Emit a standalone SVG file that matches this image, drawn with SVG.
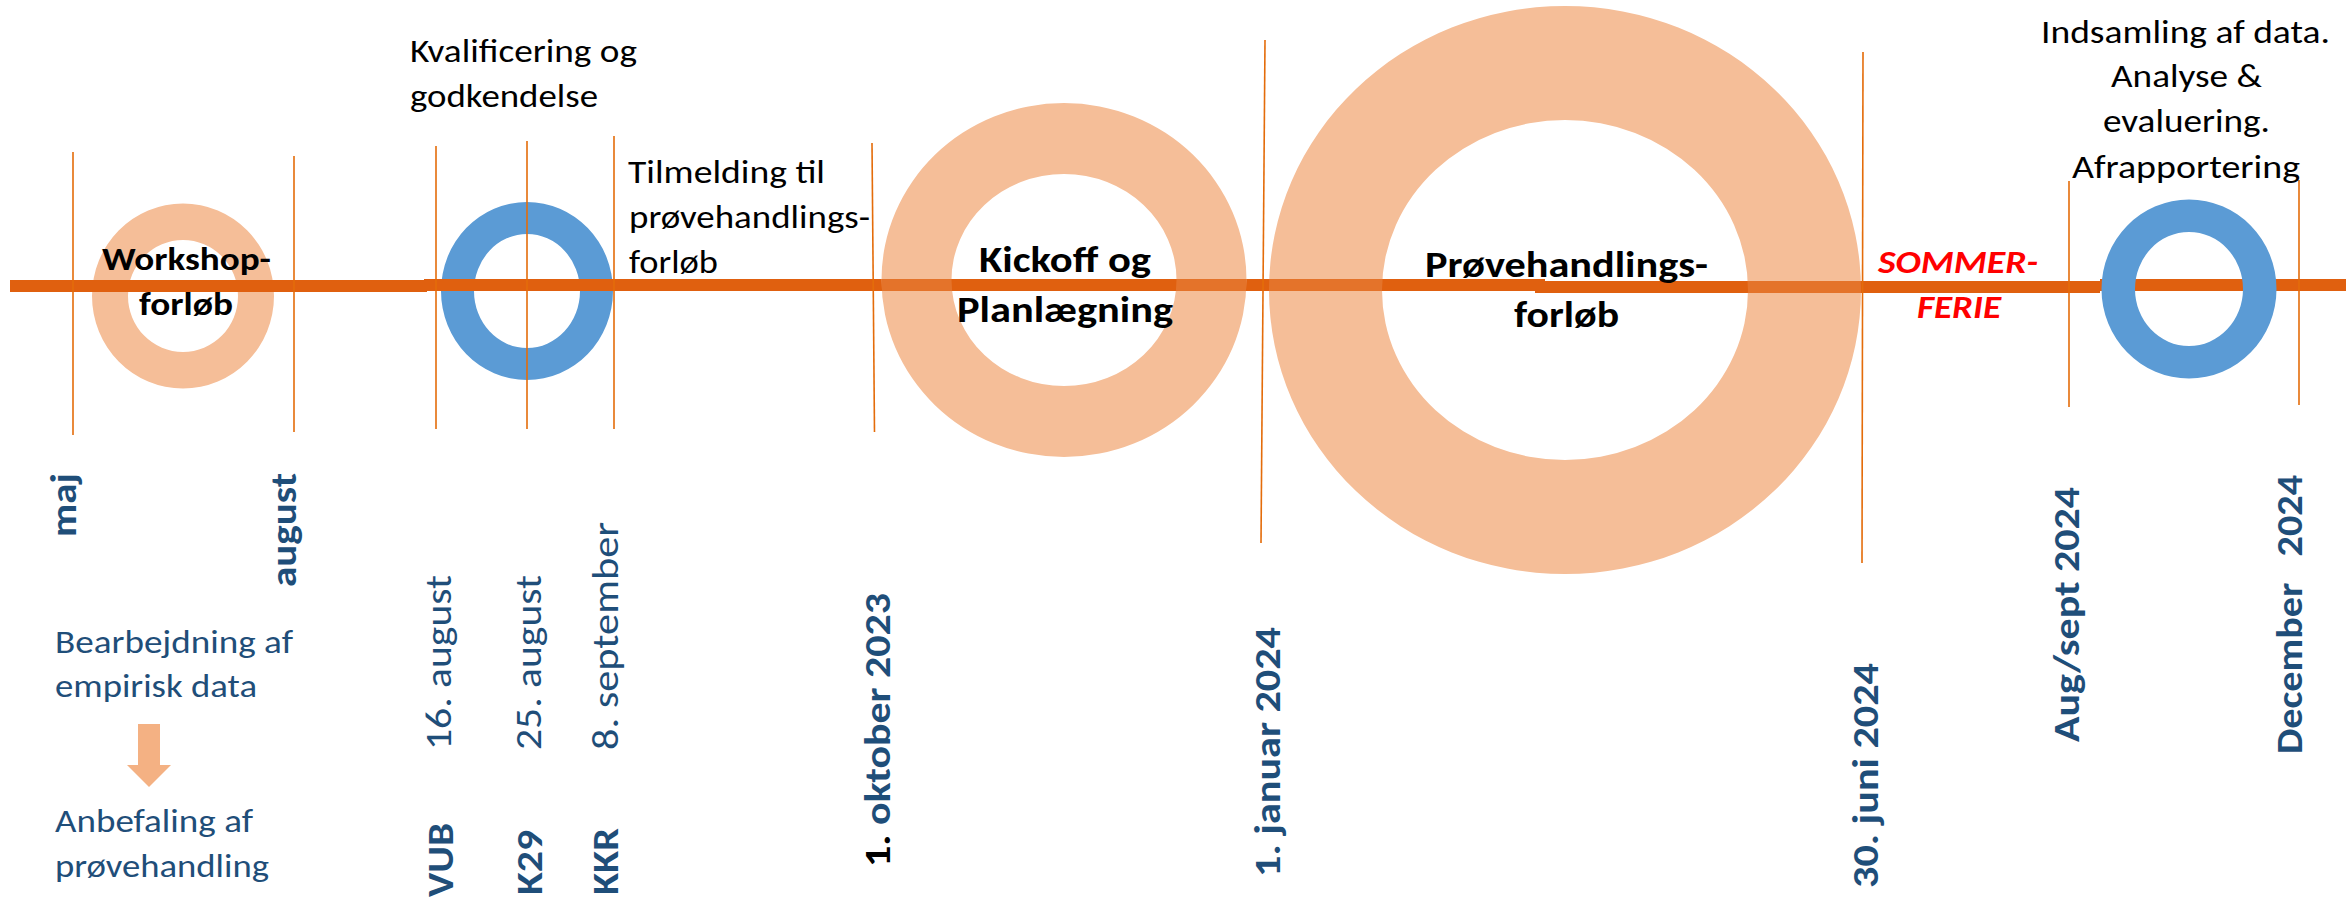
<svg xmlns="http://www.w3.org/2000/svg" width="2346" height="899" viewBox="0 0 2346 899">
<style>
text { font-family: Carlito, Lato, "Liberation Sans", sans-serif; }
.h { font-size: 32px; fill: #000; }
.hb { font-size: 33px; font-weight: 700; fill: #000; }
.hb2 { font-size: 36px; font-weight: 700; fill: #000; }
.red { font-size: 33px; font-weight: 700; font-style: italic; fill: #FF0000; }
.bl { font-size: 32px; fill: #1F4E79; }
.v { font-size: 37px; fill: #1F4E79; }
.vb { font-size: 37px; font-weight: 700; fill: #1F4E79; }
.salmon { fill: #F5BE98; fill-rule: evenodd; }
.blue { fill: #5B9BD5; fill-rule: evenodd; }
.bar { fill: #E0600F; }
.barov { fill: #E0600F; opacity: 0.8; }
.tick { stroke: #E46C0A; stroke-width: 1.6; fill: none; }
.arrow { fill: #F4B183; }
</style>

<!-- nodes under the bar -->
<g id="node-workshop-ring">
  <path class="salmon" d="M92,296 a91,92.5 0 1,0 182,0 a91,92.5 0 1,0 -182,0 Z M128,296 a55,56 0 1,0 110,0 a55,56 0 1,0 -110,0 Z"/>
</g>
<g id="node-kvalificering-ring">
  <path class="blue" d="M441,291 a86,89 0 1,0 172,0 a86,89 0 1,0 -172,0 Z M474,291 a53,57 0 1,0 106,0 a53,57 0 1,0 -106,0 Z"/>
</g>

<!-- timeline bar -->
<g id="timeline">
  <rect class="bar" x="10" y="280" width="417" height="12"/>
  <rect class="bar" x="424" y="279" width="1121" height="12"/>
  <rect class="bar" x="1535" y="281" width="565" height="12"/>
  <rect class="bar" x="2100" y="279" width="246" height="12"/>
</g>

<g id="node-kickoff">
  <path class="salmon" d="M881.5,280 a182.5,177 0 1,0 365,0 a182.5,177 0 1,0 -365,0 Z M951.5,280 a112.5,106 0 1,0 225,0 a112.5,106 0 1,0 -225,0 Z"/>
  <rect class="barov" x="881.5" y="279" width="365" height="12"/>
  <text class="hb2" x="979" y="272" textLength="172" lengthAdjust="spacingAndGlyphs">Kickoff og</text>
  <text class="hb2" x="957" y="322" textLength="216" lengthAdjust="spacingAndGlyphs">Planlægning</text>
</g>

<g id="node-provehandling">
  <path class="salmon" d="M1269,290 a296,284 0 1,0 592,0 a296,284 0 1,0 -592,0 Z M1382,290 a183,170 0 1,0 366,0 a183,170 0 1,0 -366,0 Z"/>
  <rect class="barov" x="1269" y="279" width="271" height="12"/>
  <rect class="barov" x="1540" y="281" width="321" height="12"/>
  <text class="hb2" x="1425" y="277" textLength="283" lengthAdjust="spacingAndGlyphs">Prøvehandlings-</text>
  <text class="hb2" x="1514" y="327" textLength="105" lengthAdjust="spacingAndGlyphs">forløb</text>
</g>

<g id="node-evaluering-ring">
  <path class="blue" d="M2101.5,289 a87.5,89.5 0 1,0 175,0 a87.5,89.5 0 1,0 -175,0 Z M2135,289 a54,57 0 1,0 108,0 a54,57 0 1,0 -108,0 Z"/>
</g>

<!-- tick lines -->
<g id="ticks">
  <line class="tick" x1="73" y1="152" x2="73" y2="435"/>
  <line class="tick" x1="294" y1="156" x2="294" y2="432"/>
  <line class="tick" x1="436" y1="146" x2="436" y2="429"/>
  <line class="tick" x1="527" y1="141" x2="527" y2="429"/>
  <line class="tick" x1="614" y1="136" x2="614" y2="429"/>
  <line class="tick" x1="872" y1="143" x2="874.5" y2="432"/>
  <line class="tick" x1="1265" y1="40" x2="1261" y2="543"/>
  <line class="tick" x1="1863" y1="52" x2="1862" y2="563"/>
  <line class="tick" x1="2069" y1="181" x2="2069" y2="407"/>
  <line class="tick" x1="2299" y1="180" x2="2299" y2="405"/>
</g>

<g id="node-workshop-label">
  <text class="hb" x="102" y="270" textLength="169" lengthAdjust="spacingAndGlyphs">Workshop-</text>
  <text class="hb" x="139" y="315" textLength="94" lengthAdjust="spacingAndGlyphs">forløb</text>
</g>

<g id="node-kvalificering">
  <text class="h" x="410" y="62" textLength="227" lengthAdjust="spacingAndGlyphs">Kvalificering og</text>
  <text class="h" x="410" y="107" textLength="188" lengthAdjust="spacingAndGlyphs">godkendelse</text>
</g>

<g id="node-tilmelding">
  <text class="h" x="628" y="183" textLength="197" lengthAdjust="spacingAndGlyphs">Tilmelding til</text>
  <text class="h" x="629" y="228" textLength="241" lengthAdjust="spacingAndGlyphs">prøvehandlings-</text>
  <text class="h" x="629" y="273" textLength="89" lengthAdjust="spacingAndGlyphs">forløb</text>
</g>

<g id="node-sommerferie">
  <text class="red" x="1878" y="273" textLength="160" lengthAdjust="spacingAndGlyphs">SOMMER-</text>
  <text class="red" x="1917" y="318" textLength="84" lengthAdjust="spacingAndGlyphs">FERIE</text>
</g>

<g id="node-evaluering">
  <text class="h" x="2041" y="43" textLength="289" lengthAdjust="spacingAndGlyphs">Indsamling af data.</text>
  <text class="h" x="2111" y="87" textLength="151" lengthAdjust="spacingAndGlyphs">Analyse &amp;</text>
  <text class="h" x="2103" y="132" textLength="167" lengthAdjust="spacingAndGlyphs">evaluering.</text>
  <text class="h" x="2072" y="178" textLength="228" lengthAdjust="spacingAndGlyphs">Afrapportering</text>
</g>

<g id="node-bearbejdning">
  <text class="bl" x="55" y="653" textLength="238" lengthAdjust="spacingAndGlyphs">Bearbejdning af</text>
  <text class="bl" x="55" y="697" textLength="202" lengthAdjust="spacingAndGlyphs">empirisk data</text>
</g>

<g id="node-anbefaling">
  <text class="bl" x="55" y="832" textLength="198" lengthAdjust="spacingAndGlyphs">Anbefaling af</text>
  <text class="bl" x="55" y="877" textLength="214" lengthAdjust="spacingAndGlyphs">prøvehandling</text>
</g>

<g id="connectors">
  <polygon class="arrow" points="138,724 160,724 160,765 171,765 149,787 127,765 138,765"/>
</g>

<!-- vertical date labels -->
<g id="dates">
  <text class="vb" transform="translate(76,537) rotate(-90)" textLength="64" lengthAdjust="spacingAndGlyphs">maj</text>
  <text class="vb" transform="translate(296,587) rotate(-90)" textLength="114" lengthAdjust="spacingAndGlyphs">august</text>
  <text class="v" transform="translate(451,750) rotate(-90)" textLength="175" lengthAdjust="spacingAndGlyphs">16. august</text>
  <text class="v" transform="translate(541,750) rotate(-90)" textLength="175" lengthAdjust="spacingAndGlyphs">25. august</text>
  <text class="v" transform="translate(618,750) rotate(-90)" textLength="228" lengthAdjust="spacingAndGlyphs">8. september</text>
  <text class="vb" transform="translate(453,897) rotate(-90)" textLength="74" lengthAdjust="spacingAndGlyphs">VUB</text>
  <text class="vb" transform="translate(542,895) rotate(-90)" textLength="65" lengthAdjust="spacingAndGlyphs">K29</text>
  <text class="vb" transform="translate(618,895) rotate(-90)" textLength="67" lengthAdjust="spacingAndGlyphs">KKR</text>
  <text class="vb" transform="translate(890,867) rotate(-90)" textLength="274" lengthAdjust="spacingAndGlyphs"><tspan fill="#000">1.</tspan> oktober 2023</text>
  <text class="vb" transform="translate(1280,877) rotate(-90)" textLength="250" lengthAdjust="spacingAndGlyphs">1. januar 2024</text>
  <text class="vb" transform="translate(1878,888) rotate(-90)" textLength="225" lengthAdjust="spacingAndGlyphs">30. juni 2024</text>
  <text class="vb" transform="translate(2079,742) rotate(-90)" textLength="255" lengthAdjust="spacingAndGlyphs">Aug/sept 2024</text>
  <text class="vb" transform="translate(2302,754) rotate(-90)" style="word-spacing:16px" textLength="279" lengthAdjust="spacingAndGlyphs">December 2024</text>
</g>
</svg>
